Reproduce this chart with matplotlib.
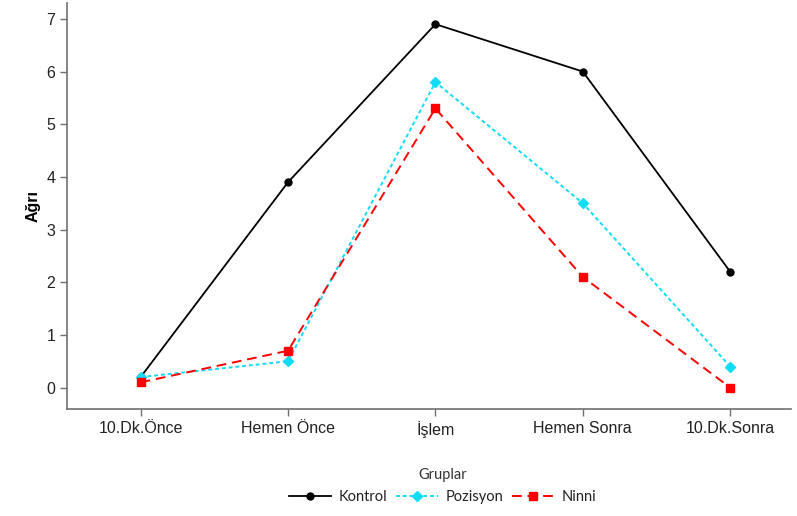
import matplotlib
matplotlib.use("Agg")
import matplotlib.pyplot as plt

categories = ["10.Dk.Önce", "Hemen Önce", "İşlem", "Hemen Sonra", "10.Dk.Sonra"]
kontrol = [0.2, 3.9, 6.9, 6.0, 2.2]
pozisyon = [0.2, 0.5, 5.8, 3.5, 0.4]
ninni = [0.1, 0.7, 5.3, 2.1, 0.0]
yticks = [0, 1, 2, 3, 4, 5, 6, 7]

fig = plt.figure(figsize=(7.97, 5.16), dpi=100)
ax = fig.add_axes([0.084, 0.207, 0.908, 0.787])
x = list(range(len(categories)))

ax.plot(x, kontrol, color="black", lw=1.3, ls="-", marker="o", ms=5, label="Kontrol")
ax.plot(x, pozisyon, color="#10dcf5", lw=1.4, ls=(0, (2, 1.5)), marker="D", ms=5, label="Pozisyon")
ax.plot(x, ninni, color="#ff0000", lw=1.4, ls=(0, (5, 3)), marker="s", ms=5.5, label="Ninni")

ax.set_xlim(-0.5, 4.41)
ax.set_ylim(-0.41, 7.3)
ax.set_xticks(x)
ax.set_xticklabels(categories, family="Liberation Sans", fontsize=11.5, color="#222222")
ax.set_yticks(yticks)
ax.set_yticklabels([str(t) for t in yticks], family="Liberation Sans", fontsize=11.5, color="#222222")
ax.set_ylabel("Ağrı", family="Liberation Sans", fontweight="bold", fontsize=11.5, labelpad=4)

for s in ["top", "right"]:
    ax.spines[s].set_visible(False)
for s in ["left", "bottom"]:
    ax.spines[s].set_color("#707070")
    ax.spines[s].set_linewidth(1.2)
ax.tick_params(colors="#707070", labelcolor="#222222", length=5, width=1)

leg = fig.legend(loc="center", bbox_to_anchor=(0.555, 0.058), ncol=3, frameon=False,
                 title="Gruplar", prop={"family": "Lato", "size": 10.5},
                 title_fontproperties={"family": "Lato", "size": 10.5},
                 handlelength=2.9, columnspacing=0.6, handletextpad=0.5)
leg.get_title().set_color("#333333")
for t in leg.get_texts():
    t.set_color("#222222")

fig.savefig("out.png", dpi=100)
